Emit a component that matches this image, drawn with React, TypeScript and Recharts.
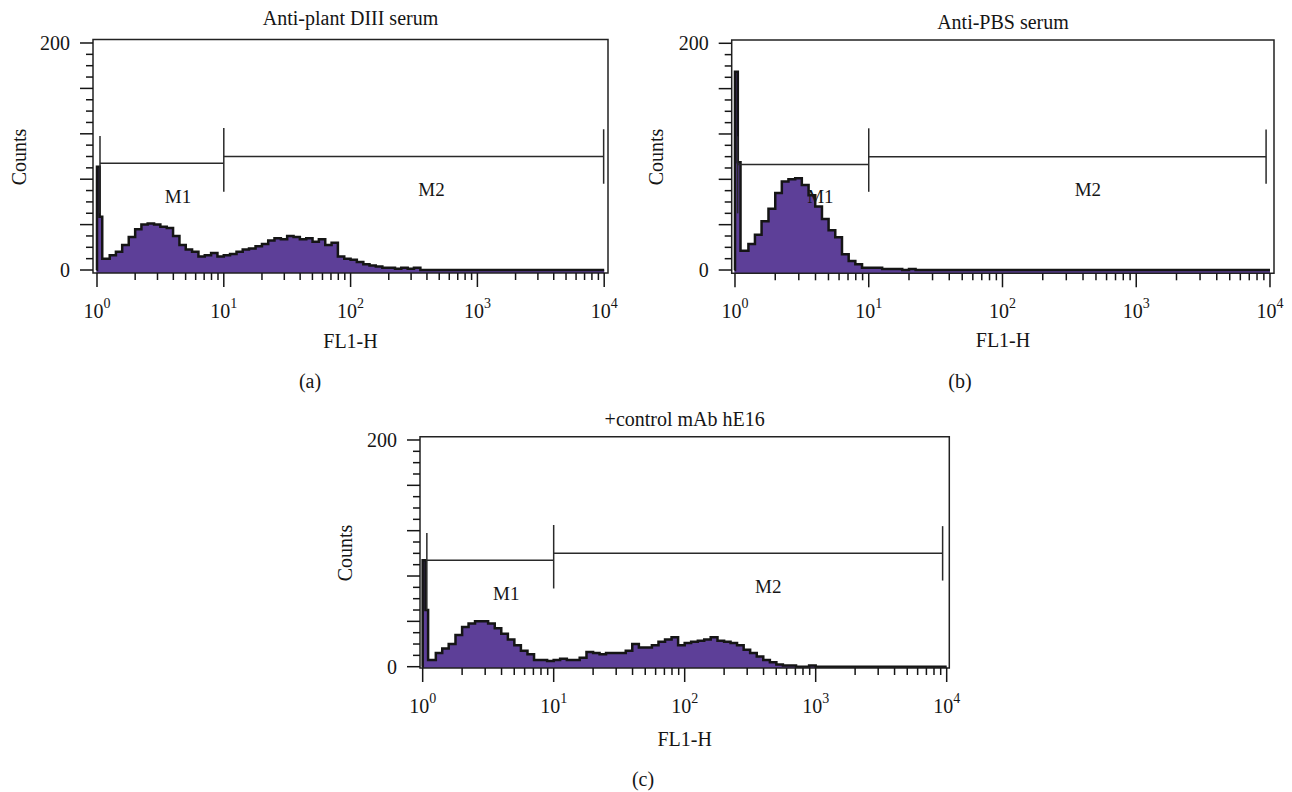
import React from 'react';
import {
  AreaChart, Area, XAxis, YAxis, ReferenceLine, ReferenceArea, ReferenceDot
} from 'recharts';

const FONT = '"Liberation Serif", "Times New Roman", serif';
const INK = '#151515';
const GATE_INK = '#2a2a2a';
const FILL = '#5D3F98';

// FL1-H value where each histogram step starts
const CHANNELS = [
  0.99, 1.0, 1.05, 1.1, 1.26, 1.41, 1.58, 1.78, 2.0, 2.24, 2.51, 2.82, 3.16, 3.55, 3.98, 4.47, 5.01, 5.62, 6.31, 7.08, 7.94, 8.91,
  10.0, 11.2, 12.6, 14.1, 15.8, 17.8, 20.0, 22.4, 25.1, 28.2, 31.6, 35.5, 39.8, 44.7, 50.1, 56.2, 63.1, 70.8, 79.4, 89.1,
  100, 112, 126, 141, 158, 178, 200, 224, 251, 282, 316, 355, 398, 447, 501, 562, 631, 708, 794, 891,
  1000, 10000
];

// (a) Anti-plant DIII serum
const COUNTS_A = [
  0, 91, 47, 10, 13, 16, 22, 29, 36, 40, 41, 40, 38, 37, 30, 22, 18, 16, 12, 13, 15, 12,
  13, 14, 16, 18, 19, 21, 23, 26, 28, 27, 30, 29, 27, 28, 25, 27, 22, 24, 12, 10,
  9, 7, 5, 4, 3, 2, 2, 1, 2, 1, 2, 0, 0, 0, 0, 0, 0, 0, 0, 0,
  0, 0
];

// (b) Anti-PBS serum
const COUNTS_B = [
  0, 175, 95, 17, 23, 31, 43, 54, 68, 78, 80, 81, 75, 66, 56, 45, 35, 29, 14, 8, 5, 2,
  2, 2, 1, 1, 1, 0, 1, 0, 0, 0, 0, 0, 0, 0, 0, 0, 0, 0, 0, 0,
  0, 0, 0, 0, 0, 0, 0, 0, 0, 0, 0, 0, 0, 0, 0, 0, 0, 0, 0, 0,
  0, 0
];

// (c) +control mAb hE16
const COUNTS_C = [
  0, 94, 50, 6, 12, 16, 20, 28, 35, 38, 40, 40, 38, 34, 29, 24, 19, 14, 11, 6, 6, 5,
  6, 7, 6, 6, 8, 13, 12, 11, 12, 12, 12, 14, 20, 17, 17, 19, 22, 24, 26, 19,
  21, 22, 23, 24, 26, 23, 22, 21, 19, 15, 12, 9, 6, 4, 2, 1, 1, 0, 0, 1,
  0, 0
];

const X_TICKS = [
  1, 2, 3, 4, 5, 6, 7, 8, 9, 10, 20, 30, 40, 50, 60, 70, 80, 90,
  100, 200, 300, 400, 500, 600, 700, 800, 900, 1000, 2000, 3000, 4000, 5000, 6000, 7000, 8000, 9000, 10000
];
const DECADES = [1, 10, 100, 1000, 10000];
const Y_TICKS = [0, 10, 20, 30, 40, 50, 60, 70, 80, 90, 100, 110, 120, 130, 140, 150, 160, 170, 180, 190, 200];
const Y_LABELS = [0, 200];

// marker bars M1 / M2 (FL1-H start, levels, end) and their end ticks (count ranges)
const GATE_A = { start: 1.056, m1: 94, m2: 100, end: 9900 };
const GATE_B = { start: 1.047, m1: 93, m2: 100, end: 9350 };
const GATE_C = { start: 1.076, m1: 94, m2: 100, end: 9310 };
const START_TICK = [50, 118];
const MID_TICK = [69, 125];
const END_TICK = [76, 124];
const MARKER_LABELS = [
  { name: 'M1', x: 4.35, y: 65 },
  { name: 'M2', x: 435, y: 71 },
];

const LogTick = (props: any) => {
  const { x, y, payload } = props;
  const v = payload.value;
  const exp = DECADES.indexOf(v);
  const major = exp >= 0;
  return (
    <g>
      <line x1={x} y1={y} x2={x} y2={y + (major ? 14 : 7)} stroke={INK} strokeWidth={1.5} />
      {major && (
        <text x={x} y={y + 45} textAnchor="middle" fontSize={20} fill={INK} fontFamily={FONT}>
          10<tspan dy={-10} fontSize={14}>{exp}</tspan>
        </text>
      )}
    </g>
  );
};

const CountTick = (props: any) => {
  const { x, y, payload } = props;
  const v = payload.value;
  const long = v % 40 === 0;
  return (
    <g>
      <line x1={x - (long ? 13 : 7)} y1={y} x2={x} y2={y} stroke={INK} strokeWidth={1.5} />
      {Y_LABELS.includes(v) && (
        <text x={x - 23} y={y} textAnchor="end" dominantBaseline="central" fontSize={20} fill={INK} fontFamily={FONT}>
          {v}
        </text>
      )}
    </g>
  );
};

interface PanelProps {
  left: number;
  top: number;
  width: number;
  height: number;
  margin: { top: number; right: number; bottom: number; left: number };
  yWidth: number;
  xDomain: [number, number];
  yDomain: [number, number];
  counts: number[];
  gate: { start: number; m1: number; m2: number; end: number };
}

const Panel: React.FC<PanelProps> = ({ left, top, width, height, margin, yWidth, xDomain, yDomain, counts, gate }) => {
  const data = CHANNELS.map((ch, i) => ({ ch, n: counts[i] }));
  return (
    <div style={{ position: 'absolute', left, top }}>
      <AreaChart width={width} height={height} data={data} margin={margin}>
        <XAxis
          dataKey="ch" type="number" scale="log" domain={xDomain} allowDataOverflow
          ticks={X_TICKS} interval={0} tickSize={0} tickMargin={0} tickLine={false} axisLine={false}
          tick={(p: any) => <LogTick {...p} />} height={30}
        />
        <YAxis
          type="number" domain={yDomain} allowDataOverflow
          ticks={Y_TICKS} interval={0} tickSize={0} tickMargin={0} tickLine={false} axisLine={false}
          tick={(p: any) => <CountTick {...p} />} width={yWidth}
        />
        <Area
          type="stepAfter" dataKey="n" stroke={INK} strokeWidth={2.5} fill={FILL} fillOpacity={1}
          baseValue={yDomain[0]} dot={false} activeDot={false} isAnimationActive={false}
        />
        <ReferenceArea
          x1={xDomain[0]} x2={xDomain[1]} y1={yDomain[0]} y2={yDomain[1]}
          fill="none" stroke="#222" strokeWidth={1.5} fillOpacity={0} ifOverflow="visible"
        />
        {/* M1 */}
        <ReferenceLine segment={[{ x: gate.start, y: START_TICK[0] }, { x: gate.start, y: START_TICK[1] }]} stroke={GATE_INK} strokeWidth={1.5} />
        <ReferenceLine segment={[{ x: gate.start, y: gate.m1 }, { x: 10, y: gate.m1 }]} stroke={GATE_INK} strokeWidth={1.5} />
        <ReferenceLine segment={[{ x: 10, y: MID_TICK[0] }, { x: 10, y: MID_TICK[1] }]} stroke={GATE_INK} strokeWidth={1.5} />
        {/* M2 */}
        <ReferenceLine segment={[{ x: 10, y: gate.m2 }, { x: gate.end, y: gate.m2 }]} stroke={GATE_INK} strokeWidth={1.5} />
        <ReferenceLine segment={[{ x: gate.end, y: END_TICK[0] }, { x: gate.end, y: END_TICK[1] }]} stroke={GATE_INK} strokeWidth={1.5} />
        {MARKER_LABELS.map((m) => (
          <ReferenceDot
            key={m.name} x={m.x} y={m.y} r={0} fill="none" stroke="none"
            label={{ value: m.name, position: 'center', fill: INK, fontSize: 19, fontFamily: FONT }}
          />
        ))}
      </AreaChart>
    </div>
  );
};

const TITLES = [
  { text: 'Anti-plant DIII serum', x: 350.5, y: 25 },
  { text: 'Anti-PBS serum', x: 1003, y: 29 },
  { text: '+control mAb hE16', x: 684.7, y: 426 },
];
const Y_TITLES = [
  { x: 18.5, y: 157 },
  { x: 655.7, y: 157 },
  { x: 345, y: 553 },
];
const X_TITLES = [
  { x: 350.5, y: 348 },
  { x: 1003, y: 347 },
  { x: 684.7, y: 746 },
];
const SUBLABELS = [
  { text: '(a)', x: 310, y: 388 },
  { text: '(b)', x: 960, y: 388 },
  { text: '(c)', x: 643, y: 786 },
];

export default function App() {
  return (
    <div style={{ position: 'absolute', left: 0, top: 0, width: 1292, height: 792, background: '#fff', fontFamily: FONT, overflow: 'hidden' }}>
      <Panel
        left={0} top={0} width={640} height={380}
        margin={{ top: 39.5, right: 32, bottom: 77, left: 0 }} yWidth={93}
        xDomain={[0.93, 10715]} yDomain={[-2.64, 203.08]} counts={COUNTS_A} gate={GATE_A}
      />
      <Panel
        left={640} top={0} width={652} height={380}
        margin={{ top: 40, right: 18, bottom: 76.7, left: 0 }} yWidth={91.7}
        xDomain={[0.945, 10715]} yDomain={[-2.9, 202.9]} counts={COUNTS_B} gate={GATE_B}
      />
      <Panel
        left={320} top={400} width={660} height={380}
        margin={{ top: 36.7, right: 30.7, bottom: 82, left: 0 }} yWidth={100}
        xDomain={[0.954, 10470]} yDomain={[-1.15, 202.9]} counts={COUNTS_C} gate={GATE_C}
      />
      <svg width={1292} height={792} style={{ position: 'absolute', left: 0, top: 0, pointerEvents: 'none' }}>
        {TITLES.map((t) => (
          <text key={t.text} x={t.x} y={t.y} textAnchor="middle" fontSize={20} fill={INK} fontFamily={FONT}>{t.text}</text>
        ))}
        {Y_TITLES.map((t, i) => (
          <text key={i} x={t.x} y={t.y} textAnchor="middle" dominantBaseline="central" fontSize={20} fill={INK} fontFamily={FONT}
            transform={`rotate(-90, ${t.x}, ${t.y})`}>Counts</text>
        ))}
        {X_TITLES.map((t, i) => (
          <text key={i} x={t.x} y={t.y} textAnchor="middle" fontSize={20} fill={INK} fontFamily={FONT}>FL1-H</text>
        ))}
        {SUBLABELS.map((t) => (
          <text key={t.text} x={t.x} y={t.y} textAnchor="middle" fontSize={20} fill={INK} fontFamily={FONT}>{t.text}</text>
        ))}
      </svg>
    </div>
  );
}
